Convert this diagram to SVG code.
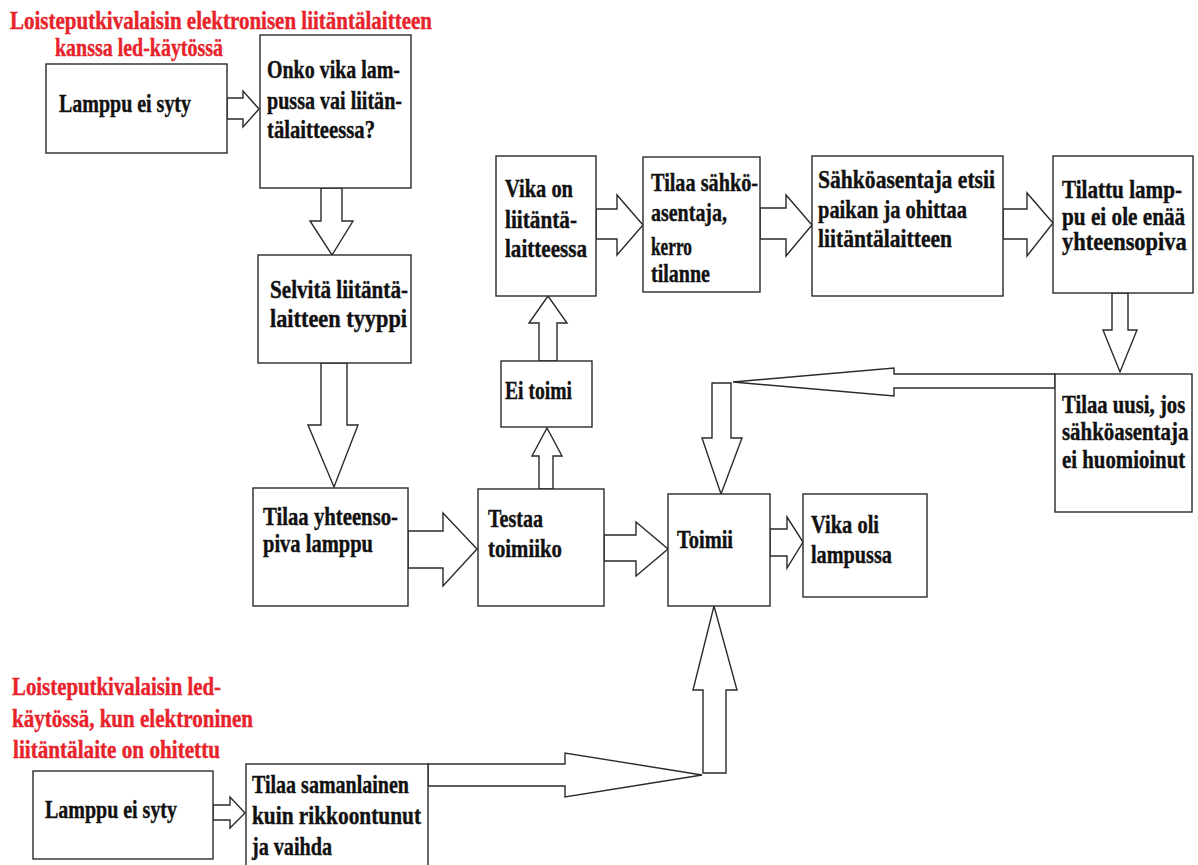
<svg xmlns="http://www.w3.org/2000/svg" width="1198" height="865" viewBox="0 0 1198 865">
<style>
.box{fill:#fff;stroke:#2a2a2a;stroke-width:1.4}
.arr{fill:#fff;stroke:#2a2a2a;stroke-width:1.4;stroke-linejoin:miter}
.t{font-family:"Liberation Serif","Times New Roman",serif;font-weight:bold;font-size:25px;fill:#111;stroke:#111;stroke-width:0.4}
.r{font-family:"Liberation Serif","Times New Roman",serif;font-weight:bold;font-size:25px;fill:#e8232b;stroke:#e8232b;stroke-width:0.4}
</style>
<rect width="1198" height="865" fill="#fff"/>
<g id="title-top">
<text class="r" x="10" y="29" textLength="422" lengthAdjust="spacingAndGlyphs">Loisteputkivalaisin elektronisen liitäntälaitteen</text>
<text class="r" x="55" y="56" textLength="168" lengthAdjust="spacingAndGlyphs">kanssa led-käytössä</text>
</g>
<g id="title-bottom">
<text class="r" x="12" y="695" textLength="209" lengthAdjust="spacingAndGlyphs">Loisteputkivalaisin led-</text>
<text class="r" x="12" y="727" textLength="241" lengthAdjust="spacingAndGlyphs">käytössä, kun elektroninen</text>
<text class="r" x="13" y="758" textLength="207" lengthAdjust="spacingAndGlyphs">liitäntälaite on ohitettu</text>
</g>
<g id="connectors">
<polygon class="arr" points="227,98 243,98 243,91 259,109 243,127 243,119 227,119"/>
<polygon class="arr" points="321,188 342,188 342,221 353,221 332,255 310,221 321,221"/>
<polygon class="arr" points="321,363 347,363 347,425 358,425 334,487 308,425 321,425"/>
<polygon class="arr" points="408,531 443,531 443,513 477,549 443,586 443,568 408,568"/>
<polygon class="arr" points="604,535 636,535 636,522 668,549 636,576 636,561 604,561"/>
<polygon class="arr" points="770,529 787,529 787,517 803,542 787,568 787,556 770,556"/>
<polygon class="arr" points="539,489 539,456 532,456 547,428 562,456 553,456 553,489"/>
<polygon class="arr" points="539,361 539,323 529,323 548,296 567,323 557,323 557,361"/>
<polygon class="arr" points="596,209 617,209 617,195 643,225 617,255 617,239 596,239"/>
<polygon class="arr" points="760,208 786,208 786,195 812,225 786,256 786,239 760,239"/>
<polygon class="arr" points="1003,209 1027,209 1027,193 1053,223 1027,256 1027,239 1003,239"/>
<polygon class="arr" points="1112,293 1128,293 1128,330 1137,330 1120,372 1103,330 1112,330"/>
<polygon class="arr" points="1055,374 894,374 894,368 733,382 894,396 894,388 1055,388"/>
<polygon class="arr" points="712,383 731,383 731,438 742,438 721,494 702,438 712,438"/>
<polygon class="arr" points="213,805 230,805 230,797 245,813 230,828 230,820 213,820"/>
<polygon class="arr" points="428,764 565,764 565,753 702,775 565,797 565,786 428,786"/>
<polygon class="arr" points="703,773 703,690 693,690 714,606 737,690 726,690 726,773"/>
</g>
<g id="n-lamppu1"><rect class="box" x="46" y="64" width="181" height="89"/>
<text class="t" x="59" y="112" textLength="132" lengthAdjust="spacingAndGlyphs">Lamppu ei syty</text></g>
<g id="n-onko"><rect class="box" x="260" y="35" width="151" height="153"/>
<text class="t" x="267" y="78" textLength="133" lengthAdjust="spacingAndGlyphs">Onko vika lam-</text>
<text class="t" x="267" y="109" textLength="135" lengthAdjust="spacingAndGlyphs">pussa vai liitän-</text>
<text class="t" x="267" y="138" textLength="108" lengthAdjust="spacingAndGlyphs">tälaitteessa?</text></g>
<g id="n-selvita"><rect class="box" x="258" y="255" width="153" height="108"/>
<text class="t" x="270" y="298" textLength="138" lengthAdjust="spacingAndGlyphs">Selvitä liitäntä-</text>
<text class="t" x="270" y="327" textLength="137" lengthAdjust="spacingAndGlyphs">laitteen tyyppi</text></g>
<g id="n-tilaa-yht"><rect class="box" x="253" y="488" width="155" height="118"/>
<text class="t" x="263" y="525" textLength="135" lengthAdjust="spacingAndGlyphs">Tilaa yhteenso-</text>
<text class="t" x="263" y="552" textLength="110" lengthAdjust="spacingAndGlyphs">piva lamppu</text></g>
<g id="n-testaa"><rect class="box" x="478" y="489" width="126" height="117"/>
<text class="t" x="488" y="527" textLength="55" lengthAdjust="spacingAndGlyphs">Testaa</text>
<text class="t" x="488" y="557" textLength="74" lengthAdjust="spacingAndGlyphs">toimiiko</text></g>
<g id="n-toimii"><rect class="box" x="668" y="494" width="102" height="112"/>
<text class="t" x="677" y="548" textLength="56" lengthAdjust="spacingAndGlyphs">Toimii</text></g>
<g id="n-vikaoli"><rect class="box" x="803" y="494" width="124" height="103"/>
<text class="t" x="811" y="533" textLength="68" lengthAdjust="spacingAndGlyphs">Vika oli</text>
<text class="t" x="811" y="563" textLength="81" lengthAdjust="spacingAndGlyphs">lampussa</text></g>
<g id="n-vikaon"><rect class="box" x="496" y="156" width="100" height="140"/>
<text class="t" x="505" y="197" textLength="68" lengthAdjust="spacingAndGlyphs">Vika on</text>
<text class="t" x="505" y="228" textLength="72" lengthAdjust="spacingAndGlyphs">liitäntä-</text>
<text class="t" x="505" y="257" textLength="82" lengthAdjust="spacingAndGlyphs">laitteessa</text></g>
<g id="n-eitoimi"><rect class="box" x="501" y="361" width="91" height="66"/>
<text class="t" x="505" y="399" textLength="67" lengthAdjust="spacingAndGlyphs">Ei toimi</text></g>
<g id="n-tilaa-sahko"><rect class="box" x="643" y="157" width="117" height="135"/>
<text class="t" x="651" y="191" textLength="107" lengthAdjust="spacingAndGlyphs">Tilaa sähkö-</text>
<text class="t" x="651" y="221" textLength="76" lengthAdjust="spacingAndGlyphs">asentaja,</text>
<text class="t" x="651" y="255" textLength="41" lengthAdjust="spacingAndGlyphs">kerro</text>
<text class="t" x="651" y="282" textLength="59" lengthAdjust="spacingAndGlyphs">tilanne</text></g>
<g id="n-sahkoasentaja"><rect class="box" x="812" y="156" width="191" height="140"/>
<text class="t" x="818" y="188" textLength="177" lengthAdjust="spacingAndGlyphs">Sähköasentaja etsii</text>
<text class="t" x="818" y="218" textLength="149" lengthAdjust="spacingAndGlyphs">paikan ja ohittaa</text>
<text class="t" x="818" y="247" textLength="134" lengthAdjust="spacingAndGlyphs">liitäntälaitteen</text></g>
<g id="n-tilattu"><rect class="box" x="1053" y="156" width="140" height="137"/>
<g transform="translate(1062,0) scale(0.8,1)">
<text class="t" x="0" y="198" textLength="150" lengthAdjust="spacingAndGlyphs">Tilattu lamp-</text>
<text class="t" x="0" y="225" textLength="154" lengthAdjust="spacingAndGlyphs">pu ei ole enää</text>
<text class="t" x="0" y="250" textLength="156" lengthAdjust="spacingAndGlyphs">yhteensopiva</text></g></g>
<g id="n-tilaa-uusi"><rect class="box" x="1055" y="374" width="137" height="138"/>
<g transform="translate(1062,0) scale(0.8,1)">
<text class="t" x="0" y="413" textLength="154" lengthAdjust="spacingAndGlyphs">Tilaa uusi, jos</text>
<text class="t" x="0" y="440" textLength="158" lengthAdjust="spacingAndGlyphs">sähköasentaja</text>
<text class="t" x="0" y="468" textLength="154" lengthAdjust="spacingAndGlyphs">ei huomioinut</text></g></g>
<g id="n-lamppu2"><rect class="box" x="33" y="771" width="180" height="88"/>
<text class="t" x="45" y="818" textLength="132" lengthAdjust="spacingAndGlyphs">Lamppu ei syty</text></g>
<g id="n-tilaa-saman"><rect class="box" x="246" y="764" width="182" height="110"/>
<text class="t" x="252" y="793" textLength="157" lengthAdjust="spacingAndGlyphs">Tilaa samanlainen</text>
<text class="t" x="252" y="824" textLength="169" lengthAdjust="spacingAndGlyphs">kuin rikkoontunut</text>
<text class="t" x="252" y="855" textLength="80" lengthAdjust="spacingAndGlyphs">ja vaihda</text></g>
</svg>
